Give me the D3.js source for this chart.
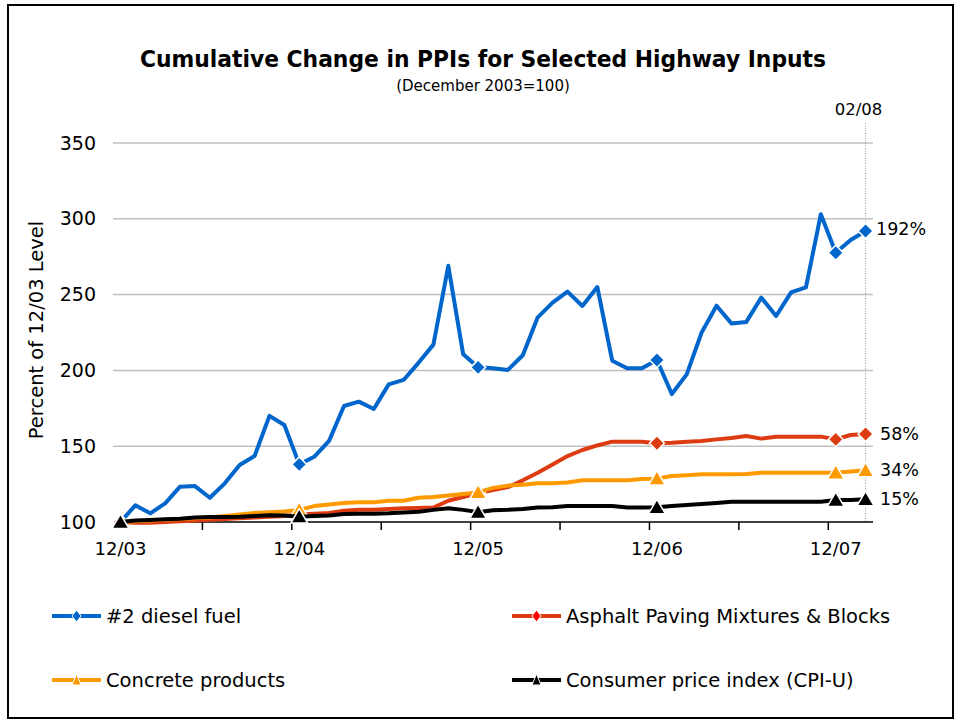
<!DOCTYPE html>
<html>
<head>
<meta charset="utf-8">
<script src="https://cdn.jsdelivr.net/npm/d3@7/dist/d3.min.js"></script>
<style>
  body { margin: 0; background: #fff; }
  svg { display: block; }
  text { font-family: "DejaVu Sans", Verdana, sans-serif; fill: #000; }
</style>
</head>
<body>
<div id="chart"></div>
<script>
const months = [
  '12/03', '01/04', '02/04', '03/04', '04/04', '05/04', '06/04', '07/04', '08/04', '09/04', '10/04', '11/04',
  '12/04', '01/05', '02/05', '03/05', '04/05', '05/05', '06/05', '07/05', '08/05', '09/05', '10/05', '11/05',
  '12/05', '01/06', '02/06', '03/06', '04/06', '05/06', '06/06', '07/06', '08/06', '09/06', '10/06', '11/06',
  '12/06', '01/07', '02/07', '03/07', '04/07', '05/07', '06/07', '07/07', '08/07', '09/07', '10/07', '11/07',
  '12/07', '01/08', '02/08'
];
const xLabels = ['12/03', '12/04', '12/05', '12/06', '12/07'];
const markerMonths = ['12/03', '12/04', '12/05', '12/06', '12/07', '02/08'];
const yTicks = [100, 150, 200, 250, 300, 350];

const diesel = [100, 111, 105.7, 112.3, 123.3, 123.7, 116, 125.5, 137.6, 143.5, 170, 164,
  138, 143, 153.5, 176.5, 179.4, 174.5, 190.8, 193.7, 205, 217, 269, 210.6,
  202, 201.4, 200.3, 210, 235, 244.7, 252, 242.5, 255, 206.4, 201.4, 201.4,
  206.9, 184.4, 197.4, 225, 242.7, 231, 232, 248, 235.9, 251.5, 254.8, 303,
  277.6, 286, 292];
const asphalt = [100, 99.5, 99.5, 100, 100.5, 101, 101.5, 102, 102.5, 103, 103.5, 104,
  105, 105.5, 106, 107.5, 108, 108, 108.5, 109, 109.2, 109.5, 114, 116.5,
  119, 121, 123, 127.5, 132.5, 138, 143.5, 147.5, 150.5, 153, 153, 153,
  152, 152.3, 153, 153.4, 154.5, 155.4, 156.7, 155, 156.3, 156.3, 156.3, 156.3,
  154.5, 157.4, 158];
const concrete = [100, 100.5, 101, 101.5, 102, 102.5, 103, 104, 105, 106, 106.5, 107,
  108, 110.5, 111.5, 112.5, 113, 113, 114, 114, 116, 116.5, 117.5, 118.5,
  119.5, 122.5, 124, 124.5, 125.5, 125.5, 126, 127.5, 127.5, 127.5, 127.5, 128.3,
  128.6, 130.3, 130.8, 131.5, 131.5, 131.5, 131.7, 132.5, 132.5, 132.5, 132.5, 132.5,
  132.5, 133.3, 134];
const cpi = [100, 101, 101.3, 101.8, 102.2, 103, 103.3, 103.3, 103.5, 104, 104.5, 104.3,
  103.5, 104, 104.3, 105.3, 105.5, 105.5, 105.7, 106.2, 106.8, 108, 109, 108,
  106.5, 107.8, 108, 108.5, 109.5, 109.7, 110.6, 110.6, 110.6, 110.6, 109.5, 109.5,
  109.7, 110.5, 111.2, 111.9, 112.6, 113.4, 113.4, 113.4, 113.4, 113.4, 113.4, 113.4,
  114.5, 114.5, 115];

const seriesNames = ['#2 diesel fuel', 'Asphalt Paving Mixtures & Blocks', 'Concrete products', 'Consumer price index (CPI-U)'];
const endLabels = ['192%', '58%', '34%', '15%'];

const series = [
  { name: seriesNames[0], values: diesel, color: '#0066cc', legendMark: '#0066cc', shape: 'diamond', label: endLabels[0] },
  { name: seriesNames[1], values: asphalt, color: '#dd3c12', legendMark: '#ff0000', shape: 'diamond', label: endLabels[1] },
  { name: seriesNames[2], values: concrete, color: '#ff9900', legendMark: '#ff9900', shape: 'triangle', label: endLabels[2] },
  { name: seriesNames[3], values: cpi, color: '#000000', legendMark: '#000000', shape: 'triangle', label: endLabels[3] },
];

const W = 964, H = 723;
const plotLeft = 113, plotRight = 873, plotTop = 143, plotBottom = 522;

const svg = d3.select('#chart').append('svg')
  .attr('width', W).attr('height', H);

svg.append('rect')
  .attr('x', 8).attr('y', 5).attr('width', 945).attr('height', 713)
  .attr('fill', '#fff').attr('stroke', '#000').attr('stroke-width', 2);

svg.append('text')
  .attr('x', 483).attr('y', 67)
  .attr('text-anchor', 'middle')
  .attr('font-size', 23).attr('font-weight', 'bold')
  .attr('textLength', 686).attr('lengthAdjust', 'spacingAndGlyphs')
  .text('Cumulative Change in PPIs for Selected Highway Inputs');
svg.append('text')
  .attr('x', 483).attr('y', 91)
  .attr('text-anchor', 'middle')
  .attr('font-size', 15)
  .text('(December 2003=100)');

const x = d3.scaleBand().domain(months).range([plotLeft, plotRight]).padding(0);
const xc = m => x(m) + x.bandwidth() / 2;
const y = d3.scaleLinear().domain([100, 350]).range([plotBottom, plotTop]);

// gridlines
svg.append('g')
  .selectAll('line')
  .data(yTicks.filter(t => t > 100))
  .enter().append('line')
  .attr('x1', plotLeft).attr('x2', plotRight)
  .attr('y1', d => y(d)).attr('y2', d => y(d))
  .attr('stroke', '#c0c0c0').attr('stroke-width', 1.5);

// y axis labels
const yAxis = svg.append('g')
  .attr('transform', `translate(${plotLeft},0)`)
  .call(d3.axisLeft(y).tickValues(yTicks).tickSize(0).tickPadding(17));
yAxis.select('.domain').remove();
yAxis.selectAll('text')
  .attr('font-size', 19)
  .attr('font-family', '"DejaVu Sans", Verdana, sans-serif')
  .attr('fill', '#000');

svg.append('text')
  .attr('transform', 'translate(43,330) rotate(-90)')
  .attr('text-anchor', 'middle')
  .attr('font-size', 19.5)
  .text('Percent of 12/03 Level');

// dotted marker line at last month
const lastMonth = months[months.length - 1];
svg.append('line')
  .attr('x1', xc(lastMonth)).attr('x2', xc(lastMonth))
  .attr('y1', 123).attr('y2', plotBottom)
  .attr('stroke', '#999').attr('stroke-width', 1)
  .attr('stroke-dasharray', '1,1.5');
svg.append('text')
  .attr('x', xc(lastMonth) - 7).attr('y', 115)
  .attr('text-anchor', 'middle')
  .attr('font-size', 16.5)
  .text(lastMonth);

// x axis
const tickMonths = months.filter((m, i) => i > 0 && i % 6 === 0);
const xAxis = svg.append('g')
  .attr('transform', `translate(0,${plotBottom})`);
xAxis.append('line')
  .attr('x1', plotLeft).attr('x2', plotRight)
  .attr('stroke', '#000').attr('stroke-width', 1.5);
xAxis.selectAll('line.tick')
  .data(tickMonths)
  .enter().append('line')
  .attr('class', 'tick')
  .attr('x1', d => x(d)).attr('x2', d => x(d))
  .attr('y1', 0).attr('y2', 8)
  .attr('stroke', '#000').attr('stroke-width', 1.5);
xAxis.selectAll('text')
  .data(xLabels)
  .enter().append('text')
  .attr('x', d => xc(d)).attr('y', 33)
  .attr('text-anchor', 'middle')
  .attr('font-size', 18)
  .text(d => d);

function markerPath(shape, s) {
  if (shape === 'diamond') {
    return `M0,${-s}L${s},0L0,${s}L${-s},0Z`;
  }
  return `M0,${-s}L${s * 1.05},${s * 0.8}L${-s * 1.05},${s * 0.8}Z`;
}

const line = d3.line()
  .x((d, i) => xc(months[i]))
  .y(d => y(d));

// series order: later series drawn on top
for (const s of series) {
  svg.append('path')
    .datum(s.values)
    .attr('fill', 'none')
    .attr('stroke', s.color)
    .attr('stroke-width', 4)
    .attr('stroke-linejoin', 'round')
    .attr('d', line);
  svg.append('g')
    .selectAll('path')
    .data(markerMonths)
    .enter().append('path')
    .attr('transform', m => `translate(${xc(m)},${y(s.values[months.indexOf(m)])})`)
    .attr('d', markerPath(s.shape, s.shape === 'diamond' ? 7.5 : 8))
    .attr('fill', s.color)
    .attr('stroke', '#fff')
    .attr('stroke-width', 1.5);
}

// end labels
const endLabelY = [229, 434, 470, 499];
series.forEach((s, k) => {
  svg.append('text')
    .attr('x', k === 0 ? 876 : 880).attr('y', endLabelY[k] + 6)
    .attr('font-size', 17.5)
    .text(s.label);
});

// legend
const legendPos = [[52, 616], [512, 616], [52, 680], [512, 680]];
series.forEach((s, k) => {
  const [lx, ly] = legendPos[k];
  const g = svg.append('g').attr('transform', `translate(${lx},${ly})`);
  g.append('line')
    .attr('x1', 0).attr('x2', 49)
    .attr('stroke', s.color).attr('stroke-width', 4);
  g.append('path')
    .attr('transform', 'translate(24.5,0)')
    .attr('d', s.shape === 'diamond'
      ? 'M0,-6L4.5,0L0,6L-4.5,0Z'
      : 'M0,-6L4.5,5L-4.5,5Z')
    .attr('fill', s.legendMark)
    .attr('stroke', '#fff').attr('stroke-width', 1);
  g.append('text')
    .attr('x', 54).attr('y', 7)
    .attr('font-size', 19.5)
    .text(s.name);
});
</script>
</body>
</html>
